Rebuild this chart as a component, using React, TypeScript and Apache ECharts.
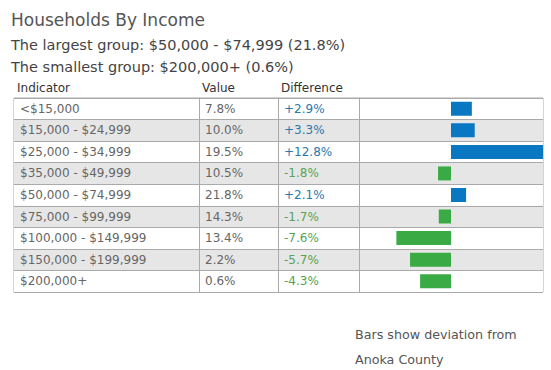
import React, { useEffect, useRef } from "react";
import * as echarts from "echarts";

const titleText = "Households By Income";
const subtitleLines = [
  "The largest group: $50,000 - $74,999 (21.8%)",
  "The smallest group: $200,000+ (0.6%)",
];
const headers = ["Indicator", "Value", "Difference"];
const categories = [
  "<$15,000",
  "$15,000 - $24,999",
  "$25,000 - $34,999",
  "$35,000 - $49,999",
  "$50,000 - $74,999",
  "$75,000 - $99,999",
  "$100,000 - $149,999",
  "$150,000 - $199,999",
  "$200,000+",
];
const values = [7.8, 10.0, 19.5, 10.5, 21.8, 14.3, 13.4, 2.2, 0.6];
const differences = [2.9, 3.3, 12.8, -1.8, 2.1, -1.7, -7.6, -5.7, -4.3];
const footnoteLines = ["Bars show deviation from", "Anoka County"];

const FONT = "DejaVu Sans";
const TEXT = "#666";
const BORDER = "#aaa";
const POS = "#0a77c2";
const NEG = "#3aaa45";
const POS_TEXT = "#2a78ad";
const NEG_TEXT = "#55a455";

export default function App() {
  const ref = useRef<HTMLDivElement>(null);
  useEffect(() => {
    if (!ref.current) return;
    const chart = echarts.init(ref.current, undefined, { renderer: "svg" });
    const valueLabels = values.map((v) => v.toFixed(1) + "%");
    const diffLabels = differences.map((v) => (v > 0 ? "+" : "") + v.toFixed(1) + "%");
    const top = 98;
    const height = 194;
    const labelStyle = { inside: true, margin: 6, fontFamily: FONT, fontSize: 12, color: TEXT };
    const baseY = {
      type: "category" as const,
      gridIndex: 0,
      inverse: true,
      position: "left" as const,
      axisTick: { show: false },
    };
    const t = (text: string, left: number, topPx: number, size: number, color: string) => ({
      text,
      left,
      top: topPx,
      padding: 0,
      textStyle: { fontFamily: FONT, fontSize: size, fontWeight: "normal", color },
    });
    chart.setOption({
      animation: false,
      title: [
        t(titleText, 11, 11, 17, "#555"),
        t(subtitleLines[0], 11, 37, 14.5, "#444"),
        t(subtitleLines[1], 11, 59, 14.5, "#444"),
        t(footnoteLines[0], 355, 328, 12.7, "#555"),
        t(footnoteLines[1], 355, 353, 12.7, "#555"),
      ],
      graphic: [
        { type: "text", left: 17, top: 82, style: { text: headers[0], fontFamily: FONT, fontSize: 12, fill: "#333" } },
        { type: "text", left: 202, top: 82, style: { text: headers[1], fontFamily: FONT, fontSize: 12, fill: "#333" } },
        { type: "text", left: 281, top: 82, style: { text: headers[2], fontFamily: FONT, fontSize: 12, fill: "#333" } },
      ],
      grid: [
        { left: 14, top, width: 529, height, show: true, borderColor: BORDER, borderWidth: 1, backgroundColor: "transparent" },
        { left: 359, top, width: 184, height },
      ],
      xAxis: [
        { type: "value", gridIndex: 0, show: false, min: 0, max: 1 },
        { type: "value", gridIndex: 1, show: false, min: -12.8, max: 12.8 },
      ],
      yAxis: [
        {
          ...baseY,
          data: categories,
          offset: 0,
          axisLine: { show: false, onZero: false },
          axisLabel: labelStyle,
          splitLine: { show: true, lineStyle: { color: BORDER } },
          splitArea: { show: true, areaStyle: { color: ["#ffffff", "#e6e6e6"] } },
        },
        {
          ...baseY,
          data: valueLabels,
          offset: -185,
          axisLine: { show: true, onZero: false, lineStyle: { color: BORDER } },
          axisLabel: labelStyle,
        },
        {
          ...baseY,
          data: diffLabels,
          offset: -264,
          axisLine: { show: true, onZero: false, lineStyle: { color: BORDER } },
          axisLabel: {
            ...labelStyle,
            color: (_v: string, i: number) => (differences[i] > 0 ? POS_TEXT : NEG_TEXT),
          },
        },
        {
          ...baseY,
          data: categories,
          offset: -345,
          axisLine: { show: true, onZero: false, lineStyle: { color: BORDER } },
          axisLabel: { show: false },
        },
        {
          type: "category",
          gridIndex: 1,
          inverse: true,
          data: categories,
          show: false,
        },
      ],
      series: [
        {
          type: "bar",
          xAxisIndex: 1,
          yAxisIndex: 4,
          barWidth: 14,
          data: differences.map((v) => ({
            value: v,
            itemStyle: { color: v > 0 ? POS : NEG },
          })),
        },
      ],
    });
    return () => chart.dispose();
  }, []);
  return (
    <div
      ref={ref}
      style={{ position: "fixed", left: 0, top: 0, width: 551, height: 370, background: "#fff" }}
    />
  );
}
